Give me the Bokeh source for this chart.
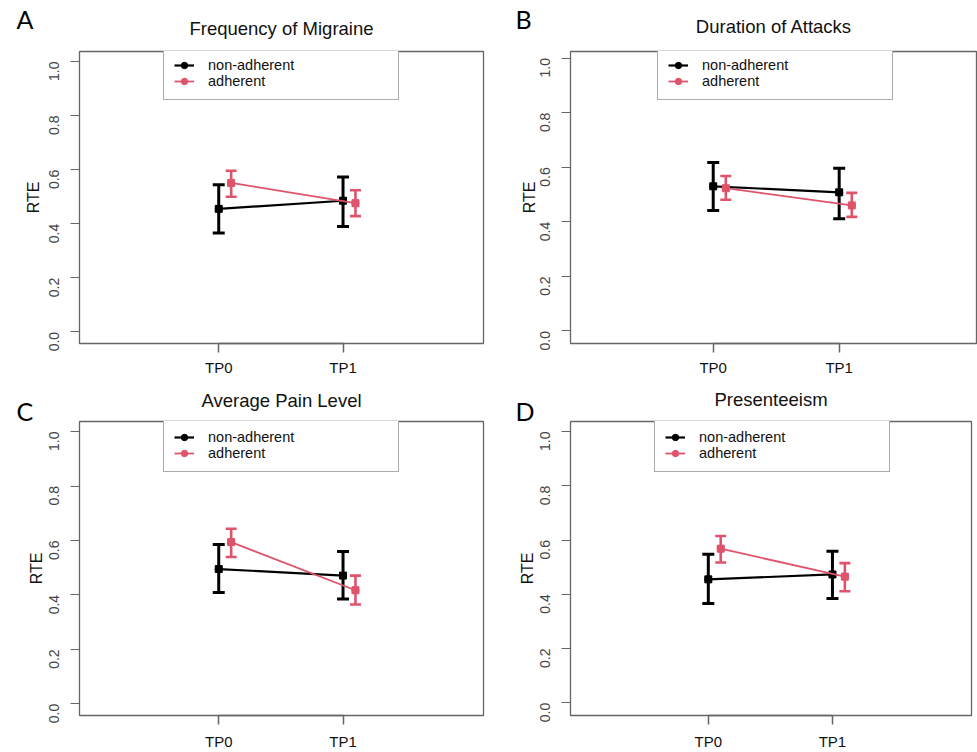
import math
from bokeh.plotting import figure
from bokeh.models import (ColumnDataSource, Whisker, TeeHead, Legend, LegendItem,
                          FixedTicker, NumeralTickFormatter, Range1d, LinearAxis)
from bokeh.layouts import row, column
from bokeh.embed import file_html
from bokeh.resources import INLINE

# ---------------- data ----------------
timepoints = ["TP0", "TP1"]
y_ticks = [0.0, 0.2, 0.4, 0.6, 0.8, 1.0]
group_labels = ["non-adherent", "adherent"]
panel_titles = ["Frequency of Migraine", "Duration of Attacks",
                "Average Pain Level", "Presenteeism"]
panel_letters = ["A", "B", "C", "D"]

# A: Frequency of Migraine
freq_non_mean = [0.455, 0.485]
freq_non_lo = [0.366, 0.390]
freq_non_hi = [0.544, 0.573]
freq_adh_mean = [0.551, 0.476]
freq_adh_lo = [0.500, 0.428]
freq_adh_hi = [0.596, 0.524]

# B: Duration of Attacks
dur_non_mean = [0.530, 0.508]
dur_non_lo = [0.441, 0.411]
dur_non_hi = [0.617, 0.596]
dur_adh_mean = [0.523, 0.460]
dur_adh_lo = [0.481, 0.418]
dur_adh_hi = [0.568, 0.506]

# C: Average Pain Level
pain_non_mean = [0.495, 0.471]
pain_non_lo = [0.409, 0.385]
pain_non_hi = [0.585, 0.559]
pain_adh_mean = [0.594, 0.417]
pain_adh_lo = [0.539, 0.365]
pain_adh_hi = [0.643, 0.471]

# D: Presenteeism
pres_non_mean = [0.455, 0.473]
pres_non_lo = [0.366, 0.384]
pres_non_hi = [0.548, 0.559]
pres_adh_mean = [0.568, 0.465]
pres_adh_lo = [0.517, 0.411]
pres_adh_hi = [0.615, 0.515]

panel_data = [
    (freq_non_mean, freq_non_lo, freq_non_hi, freq_adh_mean, freq_adh_lo, freq_adh_hi),
    (dur_non_mean, dur_non_lo, dur_non_hi, dur_adh_mean, dur_adh_lo, dur_adh_hi),
    (pain_non_mean, pain_non_lo, pain_non_hi, pain_adh_mean, pain_adh_lo, pain_adh_hi),
    (pres_non_mean, pres_non_lo, pres_non_hi, pres_adh_mean, pres_adh_lo, pres_adh_hi),
]

# ---------------- style / layout ----------------
FONT = "Liberation Sans"
BLACK = "#000000"
PINK = "#DF536B"
AXIS_COL = "#666666"
ADH_OFFSET = 0.1

layout_cfg = [
    dict(w=490, h=378, bl=79, br=7, bt=51, bb=32, xr=(-0.12, 3.13), yr=(-0.043, 1.037),
         leg_x=84, als=0, ttl=13, let_off=-63, let_std=-39, xstd=6),
    dict(w=487, h=378, bl=80, br=0, bt=51, bb=32, xr=(-0.133, 3.098), yr=(-0.046, 1.024),
         leg_x=87, als=-5, ttl=15, let_off=-55, let_std=-43, xstd=6),
    dict(w=490, h=374, bl=79, br=7, bt=43, bb=36, xr=(-0.12, 3.13), yr=(-0.043, 1.037),
         leg_x=84, als=-3, ttl=11, let_off=-63, let_std=-79, xstd=8),
    dict(w=487, h=374, bl=80, br=6, bt=43, bb=36, xr=(-0.11, 3.12), yr=(-0.047, 1.037),
         leg_x=84, als=-3, ttl=12, let_off=-55, let_std=-81, xstd=8),
]


def make_panel(idx):
    cfg = layout_cfg[idx]
    non_mean, non_lo, non_hi, adh_mean, adh_lo, adh_hi = panel_data[idx]
    xpos = [i + 1 for i in range(len(timepoints))]

    p = figure(width=cfg["w"], height=cfg["h"], output_backend="svg", toolbar_location=None,
               x_range=Range1d(*cfg["xr"]), y_range=Range1d(*cfg["yr"]),
               min_border_left=cfg["bl"], min_border_right=cfg["br"],
               min_border_top=cfg["bt"], min_border_bottom=cfg["bb"])
    p.background_fill_color = "white"
    p.border_fill_color = "white"
    p.outline_line_color = AXIS_COL
    p.outline_line_width = 1.3
    p.xgrid.visible = False
    p.ygrid.visible = False

    # bottom axis (time points)
    xa = p.below[0]
    xa.ticker = FixedTicker(ticks=xpos)
    xa.major_label_overrides = {x: t for x, t in zip(xpos, timepoints)}
    xa.bounds = (xpos[0], xpos[-1])
    xa.major_tick_out = 9
    xa.major_tick_in = 0
    xa.minor_tick_out = 0
    xa.minor_tick_in = 0
    xa.axis_line_color = AXIS_COL
    xa.axis_line_width = 1.5
    xa.major_tick_line_color = AXIS_COL
    xa.major_tick_line_width = 1.5
    xa.major_label_text_font = FONT
    xa.major_label_text_font_size = "15px"
    xa.major_label_text_color = "#111111"
    xa.major_label_standoff = cfg["xstd"]

    # left axis
    ya = p.left[0]
    ya.ticker = FixedTicker(ticks=y_ticks)
    ya.formatter = NumeralTickFormatter(format="0.0")
    ya.bounds = (y_ticks[0], y_ticks[-1])
    ya.major_tick_out = 9
    ya.major_tick_in = 0
    ya.minor_tick_out = 0
    ya.minor_tick_in = 0
    ya.axis_line_color = AXIS_COL
    ya.major_tick_line_color = AXIS_COL
    ya.major_label_orientation = math.pi / 2
    ya.major_label_text_font = FONT
    ya.major_label_text_font_size = "14px"
    ya.major_label_text_color = "#444444"
    ya.major_label_standoff = 16
    ya.axis_label = "RTE"
    ya.axis_label_text_font = FONT
    ya.axis_label_text_font_size = "16px"
    ya.axis_label_text_font_style = "normal"
    ya.axis_label_text_color = "#111111"
    ya.axis_label_standoff = cfg["als"]

    # panel title, centred over the frame (label of a tick-less top axis)
    top = LinearAxis(ticker=FixedTicker(ticks=[]), axis_label=panel_titles[idx],
                     axis_line_color=None, major_tick_out=0, major_tick_in=0,
                     minor_tick_out=0, minor_tick_in=0, major_label_standoff=0,
                     axis_label_standoff=cfg["ttl"], axis_label_text_font=FONT,
                     axis_label_text_font_size="18.5px", axis_label_text_font_style="normal",
                     axis_label_text_color="#111111")
    p.add_layout(top, "above")

    # panel letter (outermost "above" element)
    p.title.text = panel_letters[idx]
    p.title.align = "left"
    p.title.offset = cfg["let_off"]
    p.title.standoff = cfg["let_std"]
    p.title.vertical_align = "bottom"
    p.title.text_font = "Lato"
    p.title.text_font_size = "25px"
    p.title.text_font_style = "normal"
    p.title.text_color = "#000000"

    items = []
    for g, (mean, lo, hi, col, off, lw, ew, cap) in enumerate([
        (non_mean, non_lo, non_hi, BLACK, 0.0, 2.2, 3.0, 12),
        (adh_mean, adh_lo, adh_hi, PINK, ADH_OFFSET, 1.8, 2.6, 11),
    ]):
        src = ColumnDataSource(dict(x=[x + off for x in xpos], m=mean, lo=lo, hi=hi))
        wh = Whisker(base="x", lower="lo", upper="hi", source=src, dimension="height",
                     line_color=col, line_width=ew,
                     lower_head=TeeHead(size=cap, line_color=col, line_width=ew),
                     upper_head=TeeHead(size=cap, line_color=col, line_width=ew))
        p.add_layout(wh)
        ln = p.line("x", "m", source=src, line_color=col, line_width=lw)
        circ = p.scatter("x", "m", source=src, marker="circle", size=7,
                         fill_color=col, line_color=col)
        p.scatter("x", "m", source=src, marker="square", size=7,
                  fill_color=col, line_color=col)
        items.append(LegendItem(label=group_labels[g], renderers=[ln, circ]))

    frame_h = cfg["h"] - cfg["bt"] - cfg["bb"]
    leg_h = 52
    legend = Legend(items=items, location=(cfg["leg_x"], frame_h - leg_h),
                    padding=10, spacing=0, margin=0,
                    glyph_width=20, glyph_height=16, label_height=16,
                    label_width=180, label_standoff=14,
                    label_text_font=FONT, label_text_font_size="14.5px",
                    label_text_color="#111111",
                    border_line_color="#555555", border_line_width=1.2,
                    background_fill_color="white", background_fill_alpha=1.0)
    p.add_layout(legend)
    return p


panels = [make_panel(i) for i in range(4)]
layout = column(row(panels[0], panels[1]), row(panels[2], panels[3]))

with open("out.html", "w") as f:
    f.write(file_html(layout, INLINE))
